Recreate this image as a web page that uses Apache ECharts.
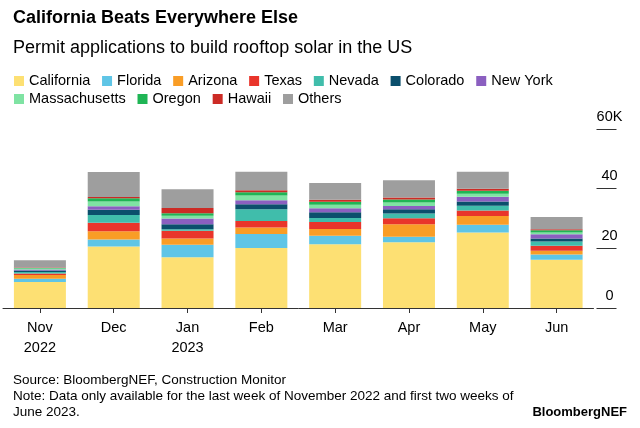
<!DOCTYPE html>
<html>
<head>
<meta charset="utf-8">
<script src="https://cdn.jsdelivr.net/npm/echarts@6/dist/echarts.min.js"></script>
<style>
html,body{margin:0;padding:0;background:#fff;}
#chart{width:640px;height:428px;}
</style>
</head>
<body>
<div id="chart"></div>
<script>
const categories = ['Nov\n2022','Dec','Jan\n2023','Feb','Mar','Apr','May','Jun'];
const seriesNames = ['California','Florida','Arizona','Texas','Nevada','Colorado','New York','Massachusetts','Oregon','Hawaii','Others'];
const california    = [8.7, 20.6, 17.0, 20.1, 21.4, 22.0, 25.3, 16.2];
const florida       = [1.1, 2.4, 4.2, 4.7, 2.8, 1.9, 2.6, 1.7];
const arizona       = [1.3, 2.7, 2.1, 2.2, 2.3, 4.2, 2.9, 1.3];
const texas         = [0.5, 2.9, 2.6, 2.2, 2.3, 2.0, 1.9, 1.7];
const nevada        = [0.5, 2.6, 0.5, 3.9, 1.4, 1.6, 1.6, 1.4];
const colorado      = [0.5, 1.7, 1.7, 1.7, 1.9, 1.4, 1.4, 1.0];
const newYork       = [0.3, 1.2, 1.9, 1.3, 1.3, 1.1, 1.6, 1.4];
const massachusetts = [0.3, 1.6, 0.9, 1.6, 1.2, 1.2, 1.0, 0.6];
const oregon        = [0.2, 1.1, 0.9, 1.1, 1.0, 1.0, 1.0, 0.8];
const hawaii        = [0.2, 0.4, 1.7, 0.7, 0.7, 0.6, 0.7, 0.3];
const others        = [2.4, 8.4, 6.3, 6.2, 5.6, 5.8, 5.7, 4.1];
const yTicks = [0, 20, 40, 60];

const values = [california, florida, arizona, texas, nevada, colorado, newYork, massachusetts, oregon, hawaii, others];
const colors = ['#fde073','#5fc5e6','#f99d26','#e9352b','#40bdab','#0b4f6c','#8b5fc0','#7fe3a3','#1fb555','#cc2b25','#9e9e9e'];
const FONT = '"Liberation Sans", Arial, Helvetica, sans-serif';

const chart = echarts.init(document.getElementById('chart'), null, {renderer:'canvas'});
chart.setOption({
  animation: false,
  backgroundColor: '#fff',
  textStyle: {fontFamily: FONT},
  title: [
    {text: 'California Beats Everywhere Else', left: 8, top: 4,
     textStyle: {fontFamily: FONT, fontSize: 18, fontWeight: 'bold', color: '#000'}},
    {text: 'Permit applications to build rooftop solar in the US', left: 8, top: 34,
     textStyle: {fontFamily: FONT, fontSize: 18, fontWeight: 'normal', color: '#000'}},
    {text: 'Source: BloombergNEF, Construction Monitor\nNote: Data only available for the last week of November 2022 and first two weeks of\nJune 2023.',
     left: 8, top: 367,
     textStyle: {fontFamily: FONT, fontSize: 13.5, fontWeight: 'normal', color: '#000', lineHeight: 16}},
    {text: 'BloombergNEF', right: 8, top: 401,
     textStyle: {fontFamily: FONT, fontSize: 13, fontWeight: 'bold', color: '#000'}}
  ],
  legend: [
    {data: seriesNames.slice(0,7), left: 9, top: 68.5, itemWidth: 10, itemHeight: 10, itemGap: 11.8,
     icon: 'rect', textStyle: {fontFamily: FONT, fontSize: 14.5, color: '#000'}},
    {data: seriesNames.slice(7), left: 9, top: 86.5, itemWidth: 10, itemHeight: 10, itemGap: 11.8,
     icon: 'rect', textStyle: {fontFamily: FONT, fontSize: 14.5, color: '#000'}}
  ],
  grid: {left: 3, right: 46.5, top: 129, bottom: 120, containLabel: false},
  xAxis: {
    type: 'category', data: categories,
    axisLine: {show: true, lineStyle: {color: '#333', width: 1}},
    axisTick: {show: true, alignWithLabel: true, length: 5, lineStyle: {color: '#333'}},
    axisLabel: {fontFamily: FONT, fontSize: 14.5, color: '#000', lineHeight: 20, margin: 10}
  },
  yAxis: {
    type: 'value', position: 'right', min: 0, max: 60, interval: 20, offset: 3,
    axisLine: {show: false},
    splitLine: {show: false},
    axisTick: {show: true, length: 20, lineStyle: {color: '#333'}},
    axisLabel: {
      fontFamily: FONT, fontSize: 14.5, color: '#000', align: 'center', margin: 13,
      verticalAlign: 'bottom', padding: [0,0,5,0],
      formatter: v => (yTicks.indexOf(v) >= 0 ? (v === 60 ? '60K' : String(v)) : '')
    }
  },
  series: seriesNames.map((n, i) => ({
    name: n, type: 'bar', stack: 'total', data: values[i], barWidth: 52,
    itemStyle: {color: colors[i]}
  })),
  color: colors
});
</script>
</body>
</html>
